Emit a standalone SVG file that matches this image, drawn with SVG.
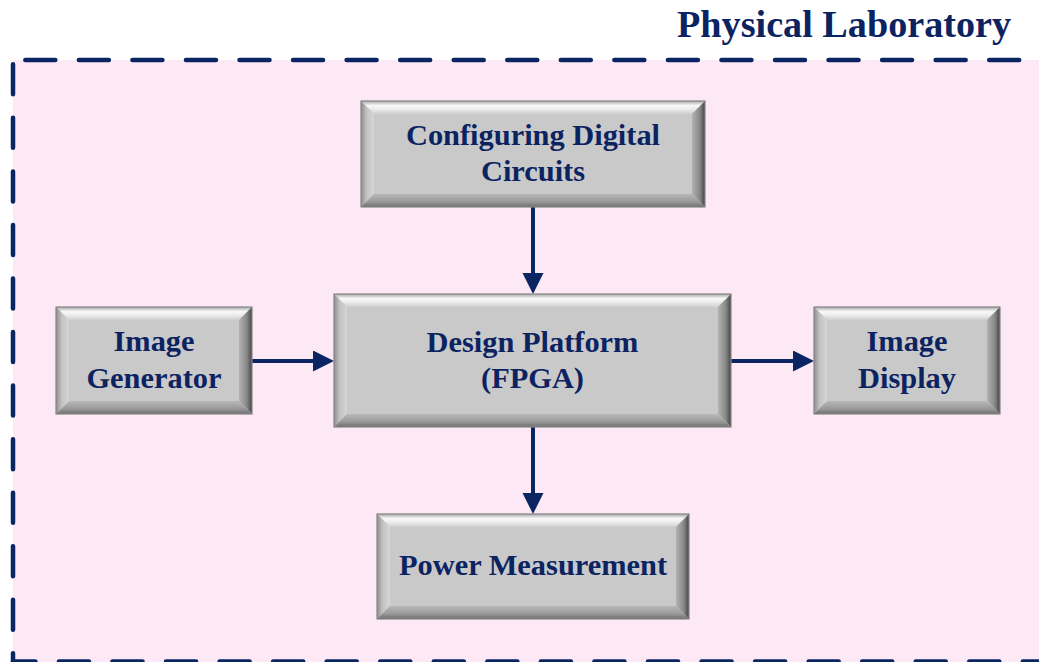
<svg xmlns="http://www.w3.org/2000/svg" width="1039" height="662" viewBox="0 0 1039 662">
  <style>
    .lbl { font-family: "Liberation Serif", "Times New Roman", serif; font-weight: bold; font-size: 30.4px; fill: #0c2361; text-anchor: middle; }
    .title { font-family: "Liberation Serif", "Times New Roman", serif; font-weight: bold; font-size: 38.2px; fill: #0c2361; }
    .face { fill: #c9c9c9; }
    .edge { fill: none; stroke: #858585; stroke-width: 1.2; }
    .bt { fill: url(#gTop); }
    .bl { fill: url(#gLeft); }
    .br { fill: url(#gRight); }
    .bb { fill: url(#gBottom); }
    .wire { fill: none; stroke: #0b2462; stroke-width: 4; marker-end: url(#head); }
    .dash { fill: none; stroke: #0b2462; stroke-width: 4.5; stroke-linecap: round; stroke-dasharray: 30 23.55; }
  </style>
  <defs>
    <linearGradient id="gTop" x1="0" y1="0" x2="0" y2="1">
      <stop offset="0" stop-color="#a9a9a9"/>
      <stop offset="0.35" stop-color="#f8f8f8"/>
      <stop offset="0.6" stop-color="#eeeeee"/>
      <stop offset="1" stop-color="#cfcfcf"/>
    </linearGradient>
    <linearGradient id="gLeft" x1="0" y1="0" x2="1" y2="0">
      <stop offset="0" stop-color="#8e8e8e"/>
      <stop offset="0.45" stop-color="#c4c4c4"/>
      <stop offset="1" stop-color="#d6d6d6"/>
    </linearGradient>
    <linearGradient id="gRight" x1="0" y1="0" x2="1" y2="0">
      <stop offset="0" stop-color="#b2b2b2"/>
      <stop offset="0.6" stop-color="#888888"/>
      <stop offset="1" stop-color="#444444"/>
    </linearGradient>
    <linearGradient id="gBottom" x1="0" y1="0" x2="0" y2="1">
      <stop offset="0" stop-color="#b8b8b8"/>
      <stop offset="0.6" stop-color="#999999"/>
      <stop offset="1" stop-color="#6e6e6e"/>
    </linearGradient>
    <marker id="head" markerUnits="userSpaceOnUse" markerWidth="22" markerHeight="22" refX="0" refY="10.5" orient="auto">
      <path d="M0,0 L21,10.5 L0,21 Z" fill="#0b2462"/>
    </marker>
  </defs>

  <!-- laboratory frame -->
  <g id="lab">
    <rect x="13" y="60" width="1040" height="610" fill="#fde9f5"/>
    <line class="dash" x1="13" y1="60" x2="1039" y2="60" stroke-dashoffset="41.25"/>
    <line class="dash" x1="13" y1="60" x2="13" y2="662" stroke-dashoffset="49.25"/>
    <line class="dash" x1="13" y1="661.5" x2="1039" y2="661.5" stroke-dashoffset="7.6"/>
    <text class="title" x="677" y="37">Physical Laboratory</text>
  </g>

  <g id="connectors">
    <path class="wire" d="M533,207 V273"/>
    <path class="wire" d="M252,361 H313"/>
    <path class="wire" d="M731,361 H793"/>
    <path class="wire" d="M533,427 V493"/>
  </g>

  <g id="config">
    <rect class="face" x="361" y="101" width="344" height="106"/>
    <polygon class="bt" points="361,101 705,101 692,114 374,114"/>
    <polygon class="bl" points="361,101 374,114 374,194 361,207"/>
    <polygon class="br" points="705,101 705,207 692,194 692,114"/>
    <polygon class="bb" points="361,207 374,194 692,194 705,207"/>
    <rect class="edge" x="361" y="101" width="344" height="106"/>
    <text class="lbl" x="533" y="145">Configuring Digital</text>
    <text class="lbl" x="533" y="181">Circuits</text>
  </g>

  <g id="platform">
    <rect class="face" x="334" y="294" width="397" height="133"/>
    <polygon class="bt" points="334,294 731,294 718,307 347,307"/>
    <polygon class="bl" points="334,294 347,307 347,414 334,427"/>
    <polygon class="br" points="731,294 731,427 718,414 718,307"/>
    <polygon class="bb" points="334,427 347,414 718,414 731,427"/>
    <rect class="edge" x="334" y="294" width="397" height="133"/>
    <text class="lbl" x="532.5" y="352">Design Platform</text>
    <text class="lbl" x="532.5" y="388">(FPGA)</text>
  </g>

  <g id="generator">
    <rect class="face" x="56" y="307" width="196" height="107"/>
    <polygon class="bt" points="56,307 252,307 239,320 69,320"/>
    <polygon class="bl" points="56,307 69,320 69,401 56,414"/>
    <polygon class="br" points="252,307 252,414 239,401 239,320"/>
    <polygon class="bb" points="56,414 69,401 239,401 252,414"/>
    <rect class="edge" x="56" y="307" width="196" height="107"/>
    <text class="lbl" x="154" y="351">Image</text>
    <text class="lbl" x="154" y="388">Generator</text>
  </g>

  <g id="display">
    <rect class="face" x="814" y="307" width="186" height="107"/>
    <polygon class="bt" points="814,307 1000,307 987,320 827,320"/>
    <polygon class="bl" points="814,307 827,320 827,401 814,414"/>
    <polygon class="br" points="1000,307 1000,414 987,401 987,320"/>
    <polygon class="bb" points="814,414 827,401 987,401 1000,414"/>
    <rect class="edge" x="814" y="307" width="186" height="107"/>
    <text class="lbl" x="907" y="351">Image</text>
    <text class="lbl" x="907" y="388">Display</text>
  </g>

  <g id="power">
    <rect class="face" x="377" y="514" width="312" height="105"/>
    <polygon class="bt" points="377,514 689,514 676,527 390,527"/>
    <polygon class="bl" points="377,514 390,527 390,606 377,619"/>
    <polygon class="br" points="689,514 689,619 676,606 676,527"/>
    <polygon class="bb" points="377,619 390,606 676,606 689,619"/>
    <rect class="edge" x="377" y="514" width="312" height="105"/>
    <text class="lbl" x="533" y="575">Power Measurement</text>
  </g>
</svg>
